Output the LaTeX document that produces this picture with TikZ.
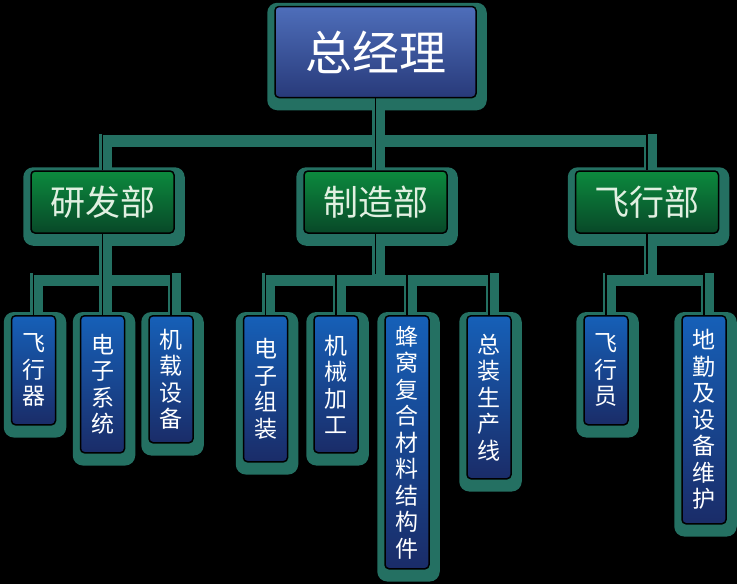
\documentclass[tikz,border=0pt]{standalone}
\usepackage{fontspec}
\newfontfamily\cjk{Noto Sans CJK SC}
\usetikzlibrary{positioning,calc}
\pgfdeclarelayer{glow}
\pgfdeclarelayer{background}
\pgfsetlayers{glow,background,main}
\definecolor{glowcol}{RGB}{36,112,98}
\definecolor{bossTop}{RGB}{78,110,186}
\definecolor{bossBot}{RGB}{40,58,122}
\definecolor{deptTop}{RGB}{12,138,62}
\definecolor{deptBot}{RGB}{8,72,40}
\definecolor{deptText}{RGB}{225,240,225}
\definecolor{teamTop}{RGB}{22,96,184}
\definecolor{teamBot}{RGB}{26,44,104}
\tikzset{
    % Boxes
    box/.style={draw=black,line width=1.5pt,rounded corners=4pt,inner sep=0pt},
    boss/.style={box,top color=bossTop,bottom color=bossBot,text=white,
        font=\cjk\fontsize{47}{50}\selectfont,minimum width=201pt,minimum height=91pt},
    dept/.style={box,top color=deptTop,bottom color=deptBot,text=deptText,
        font=\cjk\fontsize{35}{38}\selectfont,minimum width=143pt,minimum height=62pt},
    team/.style={box,top color=teamTop,bottom color=teamBot,text=white,anchor=north,
        font=\cjk\fontsize{23}{26.5}\selectfont,align=center,minimum width=44pt},
    %
    % Connectors and glow
    link/.style={draw=black,line width=1.5pt,
        preaction={draw=glowcol,line width=13pt,transform canvas={shift={(3,6)}}}},
    halo/.style={fill=glowcol,rounded corners=10pt}
}

\begin{document}
\begin{tikzpicture}[x=1pt,y=-1pt]
    \useasboundingbox (0,0) rectangle (737,584);

    \node[boss] (gm) at (375.5,52) {总经理};

    \node[dept] (rd) at (102.5,202) {研发部};
    \node[dept] (mf) at (375.5,202) {制造部};
    \node[dept] (fl) at (647,202) {飞行部};

    \node[team,minimum height=109pt] (rd1) at (33.5,315) {飞\\行\\器};
    \node[team,minimum height=137pt] (rd2) at (102.5,315) {电\\子\\系\\统};
    \node[team,minimum height=127pt] (rd3) at (171,315) {机\\载\\设\\备};

    \node[team,minimum height=146pt] (mf1) at (265.5,315) {电\\子\\组\\装};
    \node[team,minimum height=137pt] (mf2) at (336,315) {机\\械\\加\\工};
    \node[team,minimum height=253pt] (mf3) at (407,315) {蜂\\窝\\复\\合\\材\\料\\结\\构\\件};
    \node[team,minimum height=163pt] (mf4) at (489,315) {总\\装\\生\\产\\线};

    \node[team,minimum height=109pt] (fl1) at (606,315) {飞\\行\\员};
    \node[team,minimum height=208pt] (fl2) at (704,315) {地\\勤\\及\\设\\备\\维\\护};

    \begin{pgfonlayer}{glow}
        \fill[black] (0,0) rectangle (737,584);
        \foreach \n in {gm,rd,mf,fl,rd1,rd2,rd3,mf1,mf2,mf3,mf4,fl1,fl2}
            \fill[halo] ([shift={(-7,-3)}]\n.north west) rectangle ([shift={(10,12)}]\n.south east);
    \end{pgfonlayer}

    \begin{pgfonlayer}{background}
        \coordinate (top bus) at ($(gm.south)+(0,36)$);
        \coordinate (rd bus) at ($(rd.south)+(0,40)$);
        \coordinate (mf bus) at ($(mf.south)+(0,40)$);
        \coordinate (fl bus) at ($(fl.south)+(0,40)$);

        \draw[link] (rd.north) |- (top bus) -| (fl.north);
        \draw[link] (gm.south) -- (mf.north);

        \draw[link] (rd1.north) |- (rd bus) -| (rd3.north);
        \draw[link] (rd.south) -- (rd2.north);

        \draw[link] (mf1.north) |- (mf bus) -| (mf4.north);
        \draw[link] (mf.south) -- (mf bus);
        \draw[link] (mf2.north) -- (mf2.north |- mf bus);
        \draw[link] (mf3.north) -- (mf3.north |- mf bus);

        \draw[link] (fl1.north) |- (fl bus) -| (fl2.north);
        \draw[link] (fl.south) -- (fl bus);
    \end{pgfonlayer}
\end{tikzpicture}
\end{document}
